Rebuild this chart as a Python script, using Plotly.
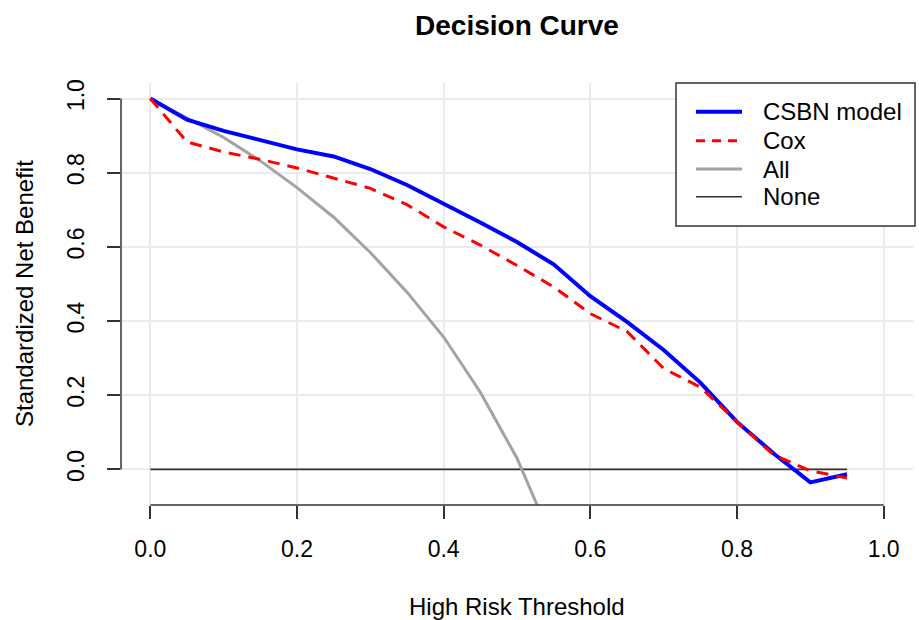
import plotly.graph_objects as go

# ---- data ----
thresholds = [0.0, 0.05, 0.10, 0.15, 0.20, 0.25, 0.30, 0.35, 0.40, 0.45,
              0.50, 0.55, 0.60, 0.65, 0.70, 0.75, 0.80, 0.85, 0.90, 0.95]
csbn_model = [1.000, 0.943, 0.913, 0.889, 0.863, 0.844, 0.810, 0.767, 0.717, 0.666,
              0.613, 0.553, 0.467, 0.398, 0.322, 0.234, 0.128, 0.043, -0.035, -0.013]
cox_model = [1.000, 0.883, 0.856, 0.836, 0.813, 0.786, 0.758, 0.714, 0.654, 0.605,
             0.550, 0.492, 0.420, 0.372, 0.272, 0.222, 0.128, 0.039, -0.004, -0.023]
all_thresholds = [0.0, 0.05, 0.10, 0.15, 0.20, 0.25, 0.30, 0.35, 0.40, 0.45, 0.50, 0.55]
treat_all = [1.000, 0.948, 0.895, 0.832, 0.760, 0.680, 0.585, 0.478, 0.357, 0.208, 0.030, -0.200]
none_thresholds = [0.0, 0.95]
treat_none = [0.0, 0.0]

series_names = ["CSBN model", "Cox", "All", "None"]
x_ticks = [0.0, 0.2, 0.4, 0.6, 0.8, 1.0]
y_ticks = [0.0, 0.2, 0.4, 0.6, 0.8, 1.0]
tick_text = ["0.0", "0.2", "0.4", "0.6", "0.8", "1.0"]

# ---- styles ----
styles = {
    "CSBN model": dict(color="#0000FF", width=4, dash="solid"),
    "Cox": dict(color="#FF0000", width=3, dash="12px,8px"),
    "All": dict(color="#A3A3A3", width=3, dash="solid"),
    "None": dict(color="#333333", width=1.6, dash="solid"),
}
FONT = "Liberation Sans, Arial, sans-serif"

W, H = 919, 620
ML, MR, MT, MB = 121, 6, 83, 115
PW, PH = W - ML - MR, H - MT - MB


def px_x(p):
    return (p - ML) / PW


def px_y(p):
    return (H - MB - p) / PH


fig = go.Figure()
data_map = {
    "CSBN model": (thresholds, csbn_model),
    "Cox": (thresholds, cox_model),
    "All": (all_thresholds, treat_all),
    "None": (none_thresholds, treat_none),
}
# draw order: None, All, CSBN, Cox
for name in ["None", "All", "CSBN model", "Cox"]:
    xs, ys = data_map[name]
    fig.add_trace(go.Scatter(x=xs, y=ys, mode="lines", name=name,
                             line=styles[name], showlegend=False,
                             hoverinfo="x+y+name"))

shapes = []
annotations = []
# R-style axis lines spanning first to last tick
shapes.append(dict(type="line", xref="x", yref="paper", x0=x_ticks[0], x1=x_ticks[-1],
                   y0=0, y1=0, line=dict(color="#333333", width=1.5)))
shapes.append(dict(type="line", xref="paper", yref="y", x0=0, x1=0,
                   y0=y_ticks[0], y1=y_ticks[-1], line=dict(color="#333333", width=1.5)))

# legend box
shapes.append(dict(type="rect", xref="paper", yref="paper",
                   x0=px_x(676), x1=px_x(915), y0=px_y(226), y1=px_y(83),
                   line=dict(color="#333333", width=1.5), fillcolor="white", layer="above"))
item_y = [111.7, 140.7, 169.0, 196.7]
for name, py in zip(series_names, item_y):
    st = styles[name]
    shapes.append(dict(type="line", xref="paper", yref="paper",
                       x0=px_x(696), x1=px_x(742), y0=px_y(py), y1=px_y(py),
                       line=dict(color=st["color"], width=st["width"],
                                 dash="9px,7px" if name == "Cox" else "solid"),
                       layer="above"))
    annotations.append(dict(text=name, xref="paper", yref="paper",
                            x=px_x(761), y=px_y(py), xanchor="left", yanchor="middle",
                            showarrow=False, font=dict(family=FONT, size=24, color="black")))

# axis titles
annotations.append(dict(text="High Risk Threshold", xref="paper", yref="paper",
                        x=0.5, y=px_y(606), xanchor="center", yanchor="middle",
                        showarrow=False, font=dict(family=FONT, size=24, color="black")))
annotations.append(dict(text="Standardized Net Benefit", xref="paper", yref="paper",
                        x=px_x(24), y=0.5, xanchor="center", yanchor="middle",
                        textangle=-90, showarrow=False,
                        font=dict(family=FONT, size=24, color="black")))

fig.update_layout(
    width=W, height=H,
    margin=dict(l=ML, r=MR, t=MT, b=MB, autoexpand=False),
    paper_bgcolor="white", plot_bgcolor="white",
    title=dict(text="<b>Decision Curve</b>", x=0.5, xref="paper", xanchor="center",
               y=1 - 25 / H, yref="container", yanchor="middle",
               font=dict(family=FONT, size=28, color="black")),
    shapes=shapes, annotations=annotations,
    showlegend=False,
)
fig.update_xaxes(range=[-0.04, 1.04], tickvals=x_ticks, ticktext=tick_text,
                 ticks="outside", ticklen=13, tickwidth=1.5, tickcolor="#333333",
                 showgrid=True, gridcolor="#EBEBEB", gridwidth=1.5,
                 zeroline=False, showline=False, ticklabelstandoff=10,
                 tickfont=dict(family=FONT, size=23, color="black"))
fig.update_yaxes(range=[-0.096, 1.042], tickvals=y_ticks, ticktext=tick_text,
                 ticks="outside", ticklen=13, tickwidth=1.5, tickcolor="#333333",
                 showgrid=True, gridcolor="#EBEBEB", gridwidth=1.5,
                 zeroline=False, showline=False, tickangle=-90, ticklabelstandoff=14,
                 tickfont=dict(family=FONT, size=23, color="black"))

fig.write_html("out.html",
               config={"displayModeBar": False},
               post_script="document.body.style.margin='0';document.body.style.overflow='hidden';")
